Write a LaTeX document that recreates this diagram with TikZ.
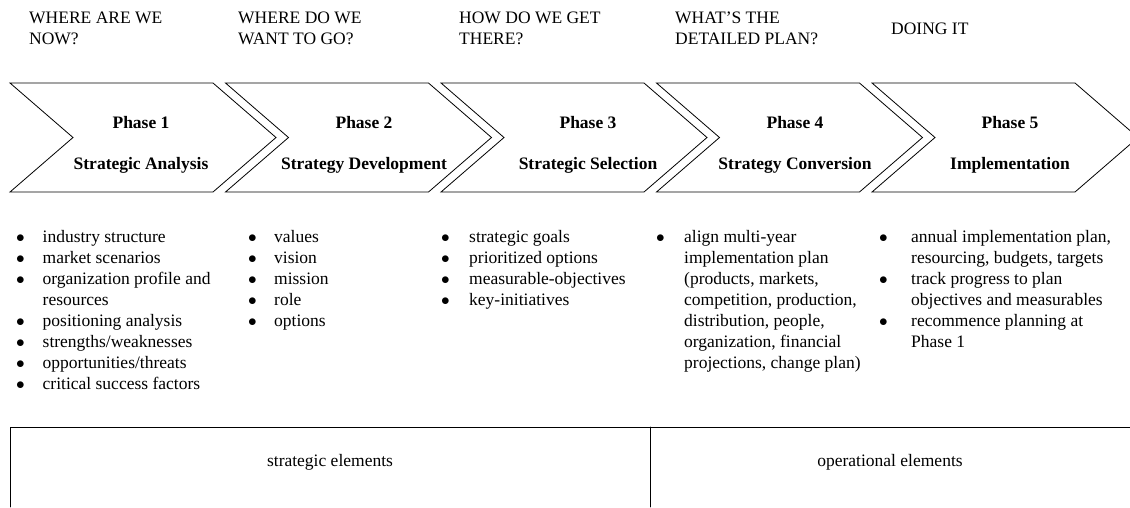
\documentclass[tikz,border=0pt]{standalone}
\usepackage{fontspec}
\setmainfont{Liberation Serif}
\usetikzlibrary{positioning}

\newcommand{\dotmark}{$\bullet$}

\begin{document}
\begin{tikzpicture}[line cap=round,line join=miter,x=1pt,y=-1pt,
	every node/.style={font=\fontsize{17.5}{21}\selectfont,inner sep=0pt},
	chevron/.style={line width=0.8pt},
	phasetext/.style={font=\fontsize{17.5}{21}\selectfont\bfseries,anchor=base},
	question/.style={anchor=base west},
	bulletlist/.style={anchor=base west},
	elements/.style={anchor=base}]

\useasboundingbox (0,0) rectangle (1130,507);

% phase chevrons
\foreach \i/\x in {1/10,2/225.5,3/441,4/656.5,5/872}
	\draw [chevron] (\x,83) -- ++(203,0) -- ++(63,54.5) -- ++(-63,54.5) -- ++(-203,0) -- ++(63,-54.5) -- cycle;

\node[phasetext] (phase1) at (141,128) {Phase 1};
\node[phasetext] (phase2) at (364,128) {Phase 2};
\node[phasetext] (phase3) at (588,128) {Phase 3};
\node[phasetext] (phase4) at (795,128) {Phase 4};
\node[phasetext] (phase5) at (1010,128) {Phase 5};
\node[phasetext] (name1) at (141,169) {Strategic Analysis};
\node[phasetext] (name2) at (364,169) {Strategy Development};
\node[phasetext] (name3) at (588,169) {Strategic Selection};
\node[phasetext] (name4) at (795,169) {Strategy Conversion};
\node[phasetext] (name5) at (1010,169) {Implementation};

% questions above
\node[question] (ask1) at (29,23) {\begin{tabular}[t]{@{}l@{}}WHERE ARE WE\\NOW?\end{tabular}};
\node[question] (ask2) at (238,23) {\begin{tabular}[t]{@{}l@{}}WHERE DO WE\\WANT TO GO?\end{tabular}};
\node[question] (ask3) at (459,23) {\begin{tabular}[t]{@{}l@{}}HOW DO WE GET\\THERE?\end{tabular}};
\node[question] (ask4) at (675,23) {\begin{tabular}[t]{@{}l@{}}WHAT'S THE\\DETAILED PLAN?\end{tabular}};
\node[question] (ask5) at (891,34) {DOING IT};

% bullet lists
\node[bulletlist] (list1) at (16,242) {\begin{tabular}[t]{@{}p{26.5pt}@{}l@{}}
\dotmark & industry structure\\
\dotmark & market scenarios\\
\dotmark & organization profile and\\
 & resources\\
\dotmark & positioning analysis\\
\dotmark & strengths/weaknesses\\
\dotmark & opportunities/threats\\
\dotmark & critical success factors
\end{tabular}};
\node[bulletlist] (list2) at (248,242) {\begin{tabular}[t]{@{}p{26pt}@{}l@{}}
\dotmark & values\\
\dotmark & vision\\
\dotmark & mission\\
\dotmark & role\\
\dotmark & options
\end{tabular}};
\node[bulletlist] (list3) at (441,242) {\begin{tabular}[t]{@{}p{28pt}@{}l@{}}
\dotmark & strategic goals\\
\dotmark & prioritized options\\
\dotmark & measurable-objectives\\
\dotmark & key-initiatives
\end{tabular}};
\node[bulletlist] (list4) at (656,242) {\begin{tabular}[t]{@{}p{28pt}@{}l@{}}
\dotmark & align multi-year\\
 & implementation plan\\
 & (products, markets,\\
 & competition, production,\\
 & distribution, people,\\
 & organization, financial\\
 & projections, change plan)
\end{tabular}};
\node[bulletlist] (list5) at (879,242) {\begin{tabular}[t]{@{}p{32pt}@{}l@{}}
\dotmark & annual implementation plan,\\
 & resourcing, budgets, targets\\
\dotmark & track progress to plan\\
 & objectives and measurables\\
\dotmark & recommence planning at\\
 & Phase 1
\end{tabular}};

% elements box
\draw [line width=0.8pt] (10,507) -- (10,427) -- (1130,427);
\draw [line width=0.8pt] (650,427) -- (650,507);
\node[elements] (strategic) at (330,466) {strategic elements};
\node[elements] (operational) at (890,466) {operational elements};
\end{tikzpicture}
\end{document}
